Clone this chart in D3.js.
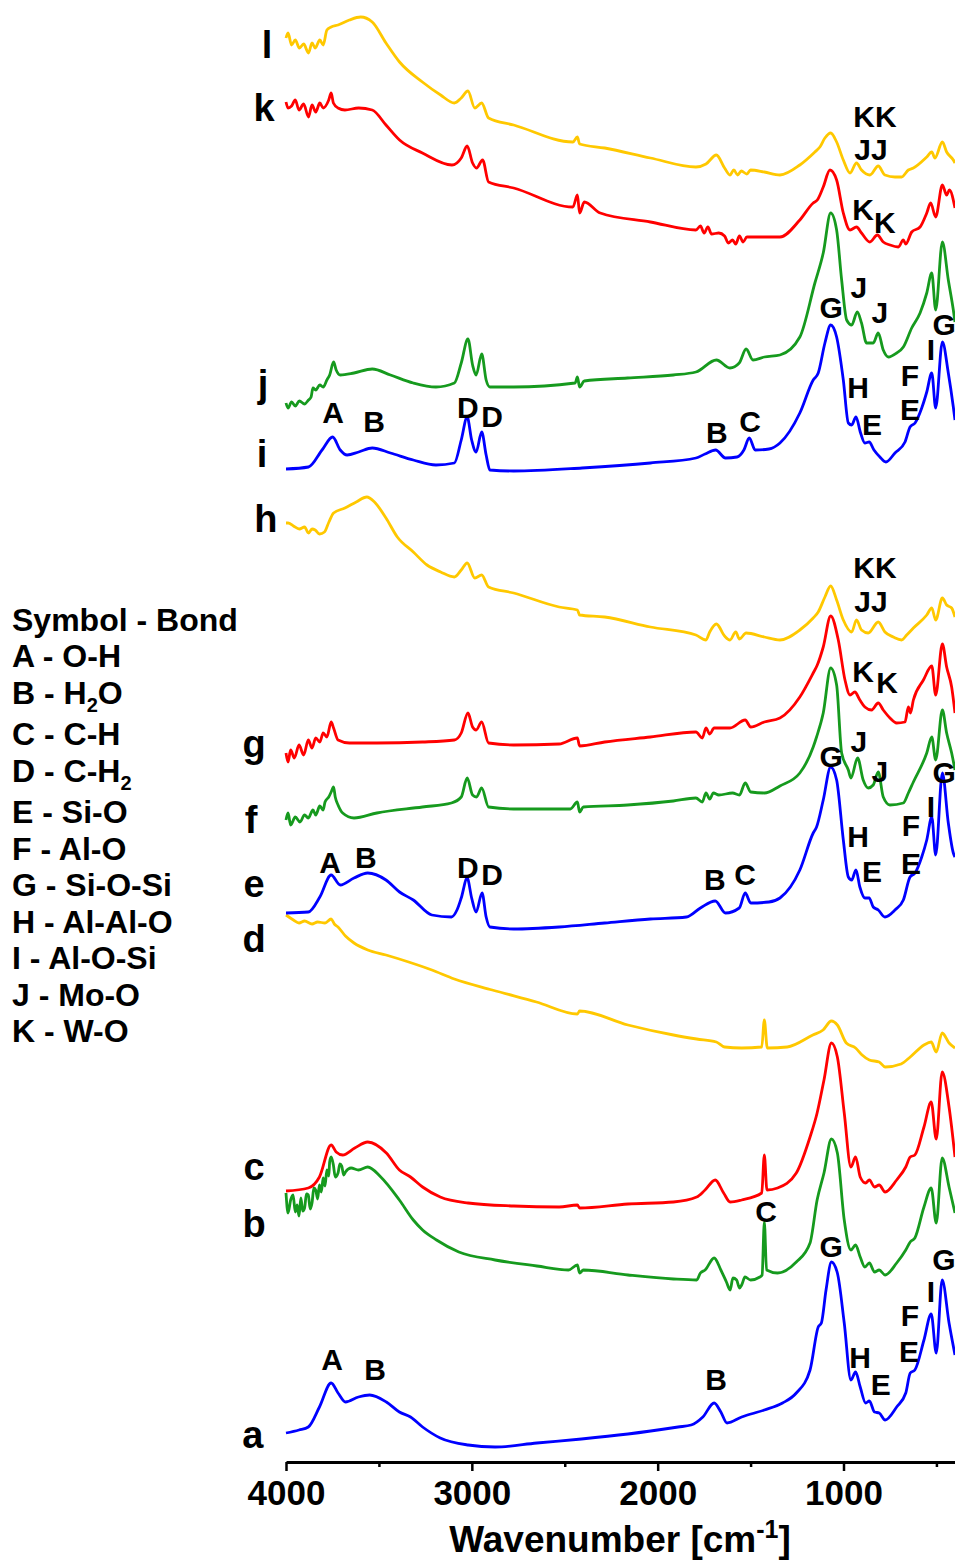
<!DOCTYPE html>
<html>
<head>
<meta charset="utf-8">
<script src="https://cdn.jsdelivr.net/npm/d3@7"></script>
<style>
body { margin: 0; background: #fff; }
text { font-family: "Liberation Sans", Arial, sans-serif; font-weight: bold; fill: #000; }
</style>
</head>
<body>
<script>
// FTIR spectra, [wavenumber cm-1, intensity a.u. with stacking offset]
const specA = [[4000,2.9],[3930,3.2],[3880,3.5],[3820,5.5],[3757,7.9],[3720,6.9],[3680,6.0],[3610,6.5],[3550,6.7],[3460,6.0],[3390,5.0],[3330,4.5],[3265,3.5],[3170,2.4],[3020,1.7],[2875,1.5],[2650,1.9],[2410,2.3],[2160,2.8],[1890,3.5],[1820,3.7],[1757,4.5],[1696,5.9],[1660,5.0],[1627,3.9],[1548,4.5],[1426,5.2],[1328,5.9],[1254,6.9],[1180,9.2],[1136,13.5],[1119,13.9],[1094,17.2],[1065,20.0],[1033,18.9],[996,13.9],[960,8.2],[935,9.0],[910,7.5],[881,5.9],[861,6.1],[833,5.0],[808,4.9],[776,4.2],[714,5.5],[665,6.9],[641,8.9],[616,9.2],[567,12.2],[528,14.8],[501,10.9],[469,18.2],[432,13.9],[400,10.7]];

const specB = [[4000,26.9],[3989,24.9],[3975,26.2],[3962,26.7],[3950,25.0],[3940,25.7],[3930,24.6],[3920,26.4],[3910,25.1],[3900,25.4],[3890,26.8],[3880,26.7],[3870,25.3],[3860,25.9],[3850,27.4],[3840,27.2],[3830,26.3],[3820,27.7],[3810,27.0],[3800,28.4],[3790,27.6],[3780,29.2],[3770,28.6],[3765,30.0],[3757,30.5],[3745,29.7],[3735,28.5],[3720,28.9],[3710,29.8],[3700,29.6],[3690,28.7],[3680,29.0],[3650,29.4],[3610,29.2],[3560,29.5],[3490,28.5],[3390,26.2],[3315,24.2],[3265,23.2],[3190,22.2],[3070,21.0],[2875,20.2],[2650,19.6],[2480,19.2],[2432,19.7],[2420,18.9],[2400,19.2],[2160,18.7],[1915,18.3],[1790,18.2],[1770,18.9],[1745,19.2],[1696,20.4],[1660,19.2],[1630,18.0],[1610,17.2],[1595,18.4],[1575,18.2],[1560,17.4],[1548,17.7],[1530,18.5],[1500,18.2],[1450,18.5],[1438,18.7],[1426,24.0],[1414,19.2],[1355,18.9],[1254,20.0],[1180,21.9],[1142,26.2],[1105,28.9],[1065,32.3],[1033,30.9],[996,24.2],[960,21.2],[935,21.7],[910,20.5],[885,19.5],[861,19.9],[833,19.0],[808,19.2],[776,18.7],[714,19.9],[665,21.2],[641,22.0],[616,22.4],[567,25.5],[528,27.4],[501,23.9],[469,30.4],[432,27.5],[400,24.9]];

const specC = [[4000,27.1],[3880,27.4],[3820,28.5],[3757,31.7],[3730,31.0],[3695,30.7],[3630,31.4],[3560,32.0],[3460,30.9],[3390,29.2],[3330,28.5],[3265,27.5],[3170,26.5],[3020,25.9],[2775,25.6],[2530,25.5],[2432,25.7],[2420,25.4],[2160,25.8],[1915,26.0],[1790,26.5],[1745,27.2],[1690,28.2],[1645,26.9],[1610,26.0],[1548,26.2],[1440,26.9],[1426,30.7],[1412,27.2],[1355,27.4],[1254,28.9],[1180,32.5],[1142,34.9],[1105,38.2],[1065,41.9],[1033,40.5],[996,34.9],[960,29.5],[935,30.5],[910,28.5],[881,27.9],[861,28.2],[833,27.5],[808,27.7],[776,27.0],[714,28.2],[665,29.5],[641,30.5],[616,30.7],[567,33.5],[528,36.0],[501,32.3],[469,39.0],[432,35.5],[400,30.5]];

const specD = [[4000,54.7],[3960,54.2],[3930,53.9],[3900,54.1],[3860,53.8],[3830,54.0],[3790,53.9],[3757,54.3],[3740,53.8],[3720,53.5],[3680,52.6],[3634,51.9],[3560,51.2],[3462,50.7],[3340,50.0],[3215,49.2],[3094,48.3],[2890,47.2],[2652,46.0],[2432,44.8],[2420,45.1],[2160,43.7],[1915,42.7],[1790,42.3],[1684,42.0],[1640,41.5],[1548,41.4],[1440,41.5],[1426,44.2],[1410,41.4],[1303,41.5],[1165,42.7],[1110,43.2],[1065,44.1],[1033,43.7],[985,41.9],[935,41.4],[900,40.7],[861,40.2],[808,40.0],[776,39.5],[690,39.8],[641,40.5],[567,41.7],[528,42.0],[501,41.0],[469,42.9],[432,41.9],[400,41.4]];

const specE = [[4000,54.9],[3880,55.0],[3818,56.5],[3757,58.7],[3708,57.7],[3634,58.4],[3560,58.9],[3462,58.2],[3389,57.0],[3315,56.2],[3215,54.7],[3110,54.5],[3080,55.2],[3057,56.4],[3025,58.4],[3001,56.4],[2977,55.0],[2945,56.9],[2923,54.5],[2903,53.5],[2775,53.3],[2530,53.5],[2285,53.9],[2039,54.3],[1845,54.5],[1770,55.4],[1690,56.1],[1635,54.9],[1561,55.4],[1529,56.9],[1499,55.9],[1401,56.0],[1342,56.4],[1235,59.2],[1163,62.9],[1145,63.5],[1109,66.2],[1069,69.5],[1037,68.2],[1001,62.2],[974,58.5],[956,58.2],[933,59.2],[912,57.5],[885,56.4],[862,56.4],[840,55.5],[813,55.2],[777,54.5],[723,55.2],[678,56.2],[642,58.5],[615,58.9],[579,60.5],[552,62.2],[525,64.5],[504,60.7],[468,68.9],[436,63.9],[409,60.9],[400,60.5]];

const specF = [[4000,64.2],[3989,64.9],[3975,63.7],[3950,64.5],[3925,64.0],[3900,64.7],[3880,64.4],[3855,65.2],[3840,64.7],[3818,65.6],[3800,65.2],[3790,66.0],[3770,66.5],[3757,67.0],[3744,67.5],[3735,66.5],[3720,65.7],[3695,64.9],[3634,64.4],[3511,64.9],[3266,65.5],[3110,65.9],[3057,66.5],[3025,68.4],[2996,66.7],[2975,66.5],[2947,67.4],[2910,65.5],[2775,65.3],[2470,65.3],[2432,66.0],[2420,65.0],[2400,65.5],[2162,65.7],[1916,66.1],[1794,66.4],[1760,66.0],[1740,66.9],[1720,66.3],[1700,66.9],[1671,66.7],[1597,66.9],[1560,66.7],[1529,67.9],[1499,67.0],[1426,66.9],[1342,67.6],[1235,68.9],[1163,71.5],[1145,72.5],[1109,74.9],[1069,79.4],[1037,77.7],[1010,70.9],[974,69.2],[960,68.4],[924,70.4],[894,68.2],[867,67.4],[840,67.7],[813,69.0],[786,66.5],[750,65.7],[678,65.9],[651,66.9],[624,68.0],[552,70.9],[525,72.5],[504,70.2],[468,75.2],[445,72.9],[418,70.9],[400,69.2]];

const specG = [[4000,70.9],[3989,70.0],[3975,71.2],[3955,70.4],[3930,71.7],[3905,70.7],[3880,72.2],[3860,71.4],[3840,72.4],[3818,72.0],[3800,72.9],[3780,72.5],[3757,74.0],[3744,73.4],[3720,72.2],[3659,71.9],[3511,71.9],[3266,72.0],[3094,72.2],[3057,72.9],[3021,74.9],[2996,73.5],[2977,73.2],[2947,74.0],[2910,71.9],[2775,71.7],[2530,71.8],[2432,72.4],[2420,71.6],[2285,72.0],[2039,72.5],[1794,73.0],[1760,72.4],[1740,73.4],[1720,72.8],[1696,73.4],[1611,73.4],[1529,74.2],[1499,73.5],[1426,74.0],[1342,74.4],[1235,76.5],[1163,78.9],[1141,79.7],[1109,81.5],[1069,84.6],[1028,82.2],[992,78.2],[965,76.7],[939,77.0],[912,76.2],[885,75.5],[849,75.2],[813,75.9],[786,75.2],[750,74.4],[714,73.9],[669,74.0],[651,75.5],[640,74.9],[624,76.2],[570,78.2],[525,79.6],[504,76.7],[468,81.8],[445,79.5],[418,77.5],[400,74.9]];

const specH = [[4000,93.9],[3989,93.9],[3960,93.6],[3928,93.3],[3900,93.5],[3879,92.9],[3860,93.3],[3843,93.2],[3820,92.8],[3793,93.0],[3769,94.0],[3744,94.9],[3683,95.4],[3622,96.0],[3565,96.5],[3524,96.0],[3462,94.4],[3401,92.5],[3315,91.0],[3241,89.7],[3168,89.0],[3094,88.5],[3057,89.2],[3025,89.9],[2984,88.4],[2947,88.7],[2910,87.5],[2775,86.9],[2530,85.5],[2432,85.2],[2420,84.7],[2285,84.5],[2039,83.5],[1794,82.7],[1740,82.2],[1720,83.0],[1684,83.8],[1640,82.6],[1611,82.2],[1580,83.0],[1560,82.3],[1524,82.9],[1426,82.5],[1342,82.2],[1235,83.2],[1163,84.4],[1136,85.0],[1100,86.5],[1069,87.6],[1037,86.2],[1001,84.2],[956,83.0],[930,84.2],[903,83.2],[867,82.9],[813,84.0],[777,83.0],[732,82.5],[687,82.2],[660,82.7],[624,83.4],[552,84.7],[525,85.4],[504,84.2],[468,86.4],[445,85.7],[418,85.4],[400,84.5]];

const specI = [[4000,99.3],[3879,99.5],[3806,101.2],[3749,102.5],[3708,101.2],[3671,100.7],[3609,101.0],[3536,101.4],[3438,100.9],[3315,100.2],[3193,99.7],[3094,99.9],[3057,102.2],[3025,104.5],[3001,102.2],[2977,101.0],[2947,103.0],[2923,100.7],[2903,99.2],[2775,99.1],[2407,99.4],[2039,99.9],[1794,100.4],[1745,100.8],[1688,101.2],[1635,100.4],[1573,100.5],[1536,101.2],[1507,102.4],[1475,101.2],[1401,101.3],[1342,101.9],[1235,104.9],[1163,108.2],[1136,108.9],[1100,111.9],[1069,113.7],[1037,112.5],[1001,108.2],[974,103.9],[956,103.7],[933,104.5],[908,102.9],[885,101.9],[862,102.0],[836,101.2],[804,100.5],[772,100.0],[723,100.9],[669,102.0],[642,103.5],[615,103.9],[579,105.4],[552,107.0],[525,108.9],[504,105.4],[468,112.0],[436,108.9],[409,105.5],[400,104.2]];

const specJ = [[4000,105.9],[3989,105.4],[3970,106.0],[3950,105.6],[3928,106.1],[3900,105.8],[3879,106.2],[3865,106.5],[3855,107.4],[3840,107.2],[3818,107.7],[3800,107.5],[3780,108.2],[3765,108.7],[3744,110.0],[3730,109.2],[3708,108.7],[3634,108.9],[3536,109.3],[3438,108.7],[3315,107.9],[3193,107.5],[3094,107.9],[3057,109.9],[3021,112.3],[2996,109.7],[2977,108.7],[2947,110.8],[2923,108.2],[2903,107.5],[2775,107.5],[2444,107.9],[2432,108.5],[2420,107.5],[2395,108.1],[2162,108.4],[1916,108.7],[1794,109.0],[1684,110.2],[1611,109.4],[1561,109.9],[1524,111.3],[1487,110.2],[1426,110.5],[1342,110.7],[1235,112.5],[1154,117.9],[1109,120.9],[1069,124.9],[1037,123.2],[1010,118.2],[983,114.2],[956,113.7],[926,115.0],[903,113.9],[876,111.9],[840,111.9],[813,112.9],[786,111.2],[759,110.5],[714,110.9],[678,111.5],[633,113.4],[588,114.9],[552,116.9],[525,118.9],[504,115.2],[468,122.0],[436,118.2],[409,115.2],[400,114.0]];

const specK = [[4000,136.0],[3989,135.4],[3970,135.6],[3950,136.2],[3930,135.2],[3905,135.8],[3879,134.5],[3860,135.7],[3840,135.0],[3818,135.9],[3800,135.4],[3770,136.2],[3757,136.9],[3745,135.9],[3720,135.4],[3683,135.2],[3609,135.4],[3536,135.2],[3462,133.7],[3389,132.2],[3266,130.9],[3107,129.7],[3057,130.4],[3025,131.6],[2996,129.9],[2975,129.4],[2942,130.2],[2910,128.0],[2775,127.4],[2456,125.5],[2432,126.7],[2420,124.9],[2395,126.0],[2309,124.9],[2039,124.0],[1794,123.2],[1770,123.6],[1750,122.9],[1730,123.5],[1710,122.8],[1671,122.9],[1640,122.6],[1620,121.9],[1597,122.2],[1580,121.8],[1560,122.6],[1540,122.0],[1520,122.5],[1475,122.5],[1342,122.5],[1235,124.2],[1163,125.9],[1141,126.2],[1109,127.5],[1073,129.2],[1037,128.2],[1001,124.9],[965,123.2],[930,123.5],[903,122.9],[858,122.0],[818,122.7],[786,122.0],[750,121.7],[705,121.5],[678,122.2],[665,121.8],[633,123.0],[588,123.5],[552,124.9],[531,125.9],[504,124.5],[468,127.7],[445,126.7],[430,127.2],[400,125.4]];

const specL = [[4000,142.4],[3989,142.9],[3970,141.7],[3950,142.2],[3928,141.4],[3905,141.8],[3879,140.9],[3860,141.9],[3843,141.4],[3818,142.2],[3800,141.7],[3780,143.2],[3757,143.5],[3720,143.7],[3659,144.2],[3598,144.5],[3536,144.0],[3462,141.9],[3389,140.0],[3266,138.0],[3168,136.7],[3094,135.9],[3057,136.4],[3021,137.1],[2984,135.4],[2947,135.9],[2910,134.4],[2775,133.7],[2456,132.0],[2432,132.5],[2420,131.8],[2285,131.4],[2039,130.4],[1794,129.5],[1740,129.8],[1684,130.7],[1640,129.4],[1611,128.7],[1590,129.2],[1570,128.7],[1550,129.1],[1520,128.8],[1500,129.2],[1426,129.0],[1342,128.7],[1235,129.7],[1154,131.0],[1127,131.5],[1100,132.4],[1069,132.9],[1037,132.0],[1001,130.2],[965,128.9],[930,129.9],[903,129.2],[858,128.7],[813,129.6],[777,128.7],[723,128.5],[687,128.5],[651,129.2],[624,129.4],[552,130.5],[525,131.0],[508,130.4],[468,132.0],[445,131.0],[409,130.2],[400,129.9]];

const spectrumNames = ["a","b","c","d","e","f","g","h","i","j","k","l"];
const spectrumData = [specA, specB, specC, specD, specE, specF, specG, specH, specI, specJ, specK, specL];
const spectrumColors = ["#0000ff","#169a1e","#ff0000","#ffc800","#0000ff","#169a1e","#ff0000","#ffc800","#0000ff","#169a1e","#ff0000","#ffc800"];
// where each spectrum's letter sits, [wavenumber, intensity]
const spectrumLabelAt = [[4178,1.4],[4172,22.5],[4172,28.2],[4172,51.0],[4172,56.5],[4188,62.9],[4172,70.5],[4108,93.0],[4129,99.5],[4124,106.5],[4118,134.1],[4102,140.4]];

// band assignments: [symbol, wavenumber, intensity]
const peakLabels = [
  ["KK",831,133.5],["JJ",852,130.2],["K",895,124.2],["K",777,122.9],
  ["J",917,116.4],["J",804,113.9],["G",1067,114.4],["G",458,112.7],["I",529,110.2],
  ["H",922,106.4],["E",847,102.7],["F",642,107.6],["E",642,104.2],
  ["A",3747,103.9],["B",3526,103.0],["D",3021,104.4],["D",2891,103.5],["B",1681,101.9],["C",1503,103.0],
  ["KK",831,88.4],["JJ",852,85.0],["K",895,78.0],["K",766,76.9],
  ["J",917,71.0],["J",804,68.0],["G",1067,69.5],["G",458,67.9],["I",529,64.5],
  ["H",922,61.5],["E",847,58.0],["F",637,62.6],["E",637,58.8],
  ["A",3763,58.9],["B",3570,59.4],["D",3021,58.4],["D",2891,57.7],["B",1692,57.2],["C",1530,57.7],
  ["C",1417,24.0],
  ["G",1067,20.5],["G",460,19.2],["I",529,16.0],["F",642,13.6],["E",648,10.0],["H",911,9.4],["E",799,6.7],
  ["A",3752,9.2],["B",3521,8.2],["B",1686,7.2]
];

const legendSymbols = ["A","B","C","D","E","F","G","H","I","J","K"];
const legendBonds = ["O-H","H_2O","C-H","C-H_2","Si-O","Al-O","Si-O-Si","Al-Al-O","Al-O-Si","Mo-O","W-O"];

const majorTicks = [4000, 3000, 2000, 1000];
const minorTicks = [3500, 2500, 1500, 500];

const W = 955, H = 1563;

const svg = d3.select("body").append("svg")
    .attr("width", W)
    .attr("height", H)
    .style("background", "#fff");

const x = d3.scaleLinear().domain([4000, 400]).range([286, 955]);
const y = d3.scaleLinear().domain([0, 146.2]).range([1462, 0]);

const line = d3.line()
    .x(d => x(d[0]))
    .y(d => y(d[1]))
    .curve(d3.curveMonotoneX);

svg.selectAll(".spectrum")
    .data(spectrumData)
    .enter()
    .append("path")
    .attr("class", "spectrum")
    .attr("fill", "none")
    .attr("stroke", (d, i) => spectrumColors[i])
    .attr("stroke-width", 2.8)
    .attr("stroke-linejoin", "round")
    .attr("d", line);

svg.selectAll(".specLabel")
    .data(spectrumNames)
    .enter()
    .append("text")
    .attr("class", "specLabel")
    .attr("x", (d, i) => x(spectrumLabelAt[i][0]))
    .attr("y", (d, i) => y(spectrumLabelAt[i][1]))
    .attr("text-anchor", "middle")
    .style("font-size", "38px")
    .text(d => d);

svg.selectAll(".peak")
    .data(peakLabels)
    .enter()
    .append("text")
    .attr("class", "peak")
    .attr("x", d => x(d[1]))
    .attr("y", d => y(d[2]))
    .attr("text-anchor", "middle")
    .style("font-size", "30px")
    .text(d => d[0]);

// x axis, major and minor ticks
const axisG = svg.append("g")
    .attr("transform", "translate(0," + y(0) + ")")
    .call(d3.axisBottom(x).tickValues(majorTicks).tickSize(9).tickSizeOuter(0).tickFormat(d3.format("d")));
axisG.select(".domain").attr("stroke-width", 3);
axisG.selectAll(".tick line").attr("stroke-width", 2.5);
axisG.selectAll(".tick text")
    .attr("y", 43)
    .attr("dy", 0)
    .style("font-size", "35px")
    .style("font-family", "'Liberation Sans', Arial, sans-serif")
    .style("font-weight", "bold")
    .attr("fill", "#000");

svg.append("g")
    .attr("transform", "translate(0," + y(0) + ")")
    .call(d3.axisBottom(x).tickValues(minorTicks).tickSize(5).tickSizeOuter(0).tickFormat(""))
    .call(g => g.select(".domain").remove())
    .selectAll(".tick line").attr("stroke-width", 2.5);

const title = svg.append("text")
    .attr("x", 620)
    .attr("y", 1552)
    .attr("text-anchor", "middle")
    .style("font-size", "37px");
title.append("tspan").text("Wavenumber [cm");
title.append("tspan").attr("dy", -14).style("font-size", "25px").text("-1");
title.append("tspan").attr("dy", 14).text("]");

// bond legend
const legend = svg.append("g").attr("transform", "translate(12,0)");
legend.append("text").attr("y", 631).style("font-size", "32px").text("Symbol - Bond");
let ly = 667;
legendSymbols.forEach(function(s, i) {
    const parts = legendBonds[i].split("_");
    const t = legend.append("text").attr("y", ly).style("font-size", "32px");
    t.append("tspan").text(s + " - " + parts[0]);
    if (parts.length > 1) {
        t.append("tspan").attr("dy", 8).style("font-size", "20px").text(parts[1].charAt(0));
        t.append("tspan").attr("dy", -8).text(parts[1].slice(1));
    }
    ly += 36.5 + (parts.length > 1 ? 5 : 0);
});
</script>
</body>
</html>
